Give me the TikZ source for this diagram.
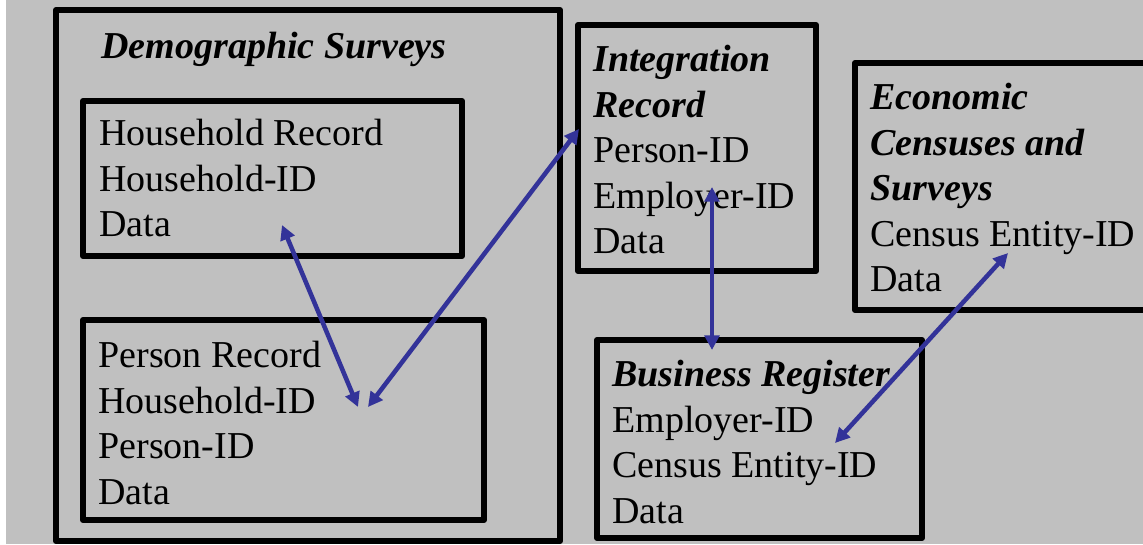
\documentclass[tikz,border=0pt]{standalone}
\usepackage{fontspec}
\setmainfont{Liberation Serif}
\usetikzlibrary{arrows.meta,positioning}
\definecolor{linkblue}{RGB}{51,51,153}
\definecolor{slide}{RGB}{192,192,192}
\newcommand{\rectitle}[1]{\textbf{\textit{#1}}}

\begin{document}
\begin{tikzpicture}[x=0.75pt,y=-0.75pt,>={Triangle[length=11pt,width=11pt]},semithick]
  \tikzstyle{box}=[draw,line width=4.5pt,line join=round,outer sep=0pt,inner sep=0pt,anchor=north west]
  \tikzstyle{fields}=[inner sep=0pt,align=left,anchor=north west,font=\fontsize{28.5}{34.1}\selectfont]
  \tikzstyle{link}=[<->,draw=linkblue,line width=3.4pt]

  \useasboundingbox (0,0) rectangle (1143,544);
  \fill[white] (0,0) rectangle (1143,544);
  \fill[slide] (6,0) rectangle (1143,544);
  \clip (0,0) rectangle (1143,544);

  % record boxes
  \node[box,minimum width=378pt,minimum height=398.25pt] (dm) at (56,10) {};
  \node[box,minimum width=284.25pt,minimum height=116.25pt] (hh) at (83,101) {};
  \node[box,minimum width=300.75pt,minimum height=150pt] (pr) at (83,320) {};
  \node[box,minimum width=178.5pt,minimum height=184.5pt] (ir) at (578,25) {};
  \node[box,minimum width=221.25pt,minimum height=185.25pt] (ec) at (855,63) {};
  \node[box,minimum width=243.75pt,minimum height=148.5pt] (br) at (597,340) {};

  % fields
  \node[fields,below right=16.5pt and 33.75pt of dm.north west] (dmT) {\rectitle{Demographic Surveys}};
  \node[fields,below right=13.5pt and 12pt of hh.north west] (hhT) {Household Record\\ Household-ID\\ Data};
  \node[fields,below right=15.75pt and 11.25pt of pr.north west] (prT) {Person Record\\ Household-ID\\ Person-ID\\ Data};
  \node[fields,below right=15pt and 11.25pt of ir.north west] (irT) {\rectitle{Integration}\\ \rectitle{Record}\\ Person-ID\\ Employer-ID\\ Data};
  \node[fields,below right=15pt and 11.25pt of ec.north west] (ecT) {\rectitle{Economic}\\ \rectitle{Censuses and}\\ \rectitle{Surveys}\\ Census Entity-ID\\ Data};
  \node[fields,below right=15pt and 11.25pt of br.north west] (brT) {\rectitle{Business Register}\\ Employer-ID\\ Census Entity-ID\\ Data};

  % links
  \coordinate (hhEnd) at (282,225);
  \coordinate (prEndA) at (358,407);
  \coordinate (prEndB) at (368,407);
  \coordinate (irEndA) at (579,129);
  \coordinate (irEndB) at (712,187);
  \coordinate (brEndA) at (712,350);
  \coordinate (brEndB) at (835,443);
  \coordinate (ecEnd) at (1008,253);

  \draw[link] (hhEnd) -- (prEndA);
  \draw[link] (prEndB) -- (irEndA);
  \draw[link] (irEndB) -- (brEndA);
  \draw[link] (ecEnd) -- (brEndB);
\end{tikzpicture}
\end{document}
